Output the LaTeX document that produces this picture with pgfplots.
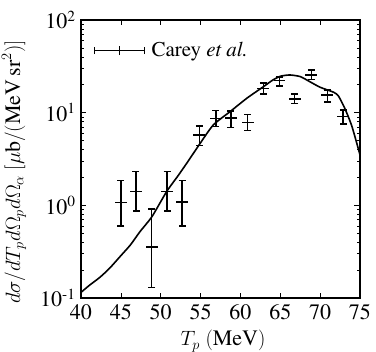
\documentclass[border=0pt]{standalone}
\usepackage{fontspec}
\IfFontExistsTF{TeX Gyre Termes}{\setmainfont{TeX Gyre Termes}}{\setmainfont{Liberation Serif}}
\usepackage{pgfplots}
\usepackage{pgfplotstable}
\pgfplotsset{compat=1.18}
\pgfplotstableread{
x y ep em
45.0 1.07 0.78 0.47
46.9 1.41 0.90 0.54
48.85 0.353 0.557 0.223
50.8 1.41 0.90 0.54
52.7 1.08 0.77 0.48
54.85 5.74 1.45 1.33
56.9 8.69 1.81 1.63
58.8 8.70 1.70 1.80
60.9 7.87 1.73 1.47
62.87 18.3 2.5 2.4
64.9 22.2 1.9 2.8
66.8 14.1 1.7 1.5
68.9 25.5 3.4 2.6
70.9 15.5 2.1 2.4
72.9 9.05 1.65 1.5
}\carey
\begin{document}
\begin{tikzpicture}
\useasboundingbox (-81pt,-54pt) rectangle (295pt,298pt);
\begin{axis}[
  at={(0pt,0pt)}, anchor=south west,
  scale only axis,
  width=279pt, height=278pt,
  xmin=40, xmax=75, ymin=0.1, ymax=100,
  ymode=log,
  xtick={40,45,...,75},
  ytick={0.1,1,10,100},
  yticklabels={10\textsuperscript{-1},10\textsuperscript{0},10\textsuperscript{1},10\textsuperscript{2}},
  minor xtick={},
  tick align=inside,
  major tick length=5.5pt,
  minor tick length=3pt,
  tick style={black, line width=0.7pt},
  axis line style={line width=1.2pt},
  xtick pos=both, ytick pos=both,
  /pgf/number format/assume math mode=true,
  tick label style={font=\fontsize{22}{24}\selectfont},
  yticklabel style={xshift=-2pt},
  xticklabel style={yshift=-3pt},
  label style={font=\fontsize{22}{24}\selectfont},
  xlabel={$T_p\ \mathrm{(MeV)}$},
  ylabel={$d\sigma/dT_p d\Omega_p d\Omega_\alpha\ [\mu\mathrm{b}/(\mathrm{MeV\,sr}^2)]$},
  xlabel style={at={(axis description cs:0.509,-0.155)}, anchor=center},
  ylabel style={at={(axis description cs:-0.240,0.453)}, anchor=center},
  legend style={at={(axis description cs:0.045,0.89)}, anchor=west, draw=none, fill=none, inner sep=0pt,
    font=\fontsize{21}{23}\selectfont},
  legend cell align=left,
  legend image code/.code={
    \draw[black, line width=1.8pt] (0pt,0pt) -- (50pt,0pt);
    \draw[black, line width=1.6pt] (0pt,-3.5pt) -- (0pt,3.5pt);
    \draw[black, line width=1.6pt] (50pt,-3.5pt) -- (50pt,3.5pt);
    \draw[black, line width=1.6pt] (25pt,-4.5pt) -- (25pt,4.5pt);
  },
]
\addplot[draw=none, mark=none, line width=1.6pt,
  error bars/.cd, x dir=both, x fixed=0.75, error mark=none,
  error bar style={line width=1.6pt, draw=black}]
  table[x=x, y=y] {\carey};
\addlegendentry{\hspace{4pt}Carey \textit{et al.}}
\addplot[draw=none, mark=none, line width=1.6pt, forget plot,
  error bars/.cd, y dir=both, y explicit,
  error mark options={rotate=90, mark size=3.5pt, line width=1.6pt, draw=black},
  error bar style={line width=1.6pt, draw=black}]
  table[x=x, y=y, y error plus=ep, y error minus=em] {\carey};
\addplot[black, line width=1.6pt, smooth, tension=0.4, mark=none, forget plot] coordinates {
(40,0.115) (41.1,0.138) (42.4,0.168) (43.6,0.21) (44.9,0.28) (46.2,0.374)
(47.4,0.52) (48.9,0.755) (50.75,1.41) (52.2,2.1) (53.4,2.96) (54.9,4.6)
(56.6,7.37) (58.7,10.25) (60.8,14.3) (62.9,19.1) (64.0,22.3) (65.0,24.7)
(66.2,25.5) (67.5,24.5) (68.7,21.6) (70.0,18.8) (71.7,16.6) (72.3,15.1)
(73.1,11.1) (74.0,7.06) (75.0,3.5)
};
\end{axis}
\end{tikzpicture}
\end{document}
